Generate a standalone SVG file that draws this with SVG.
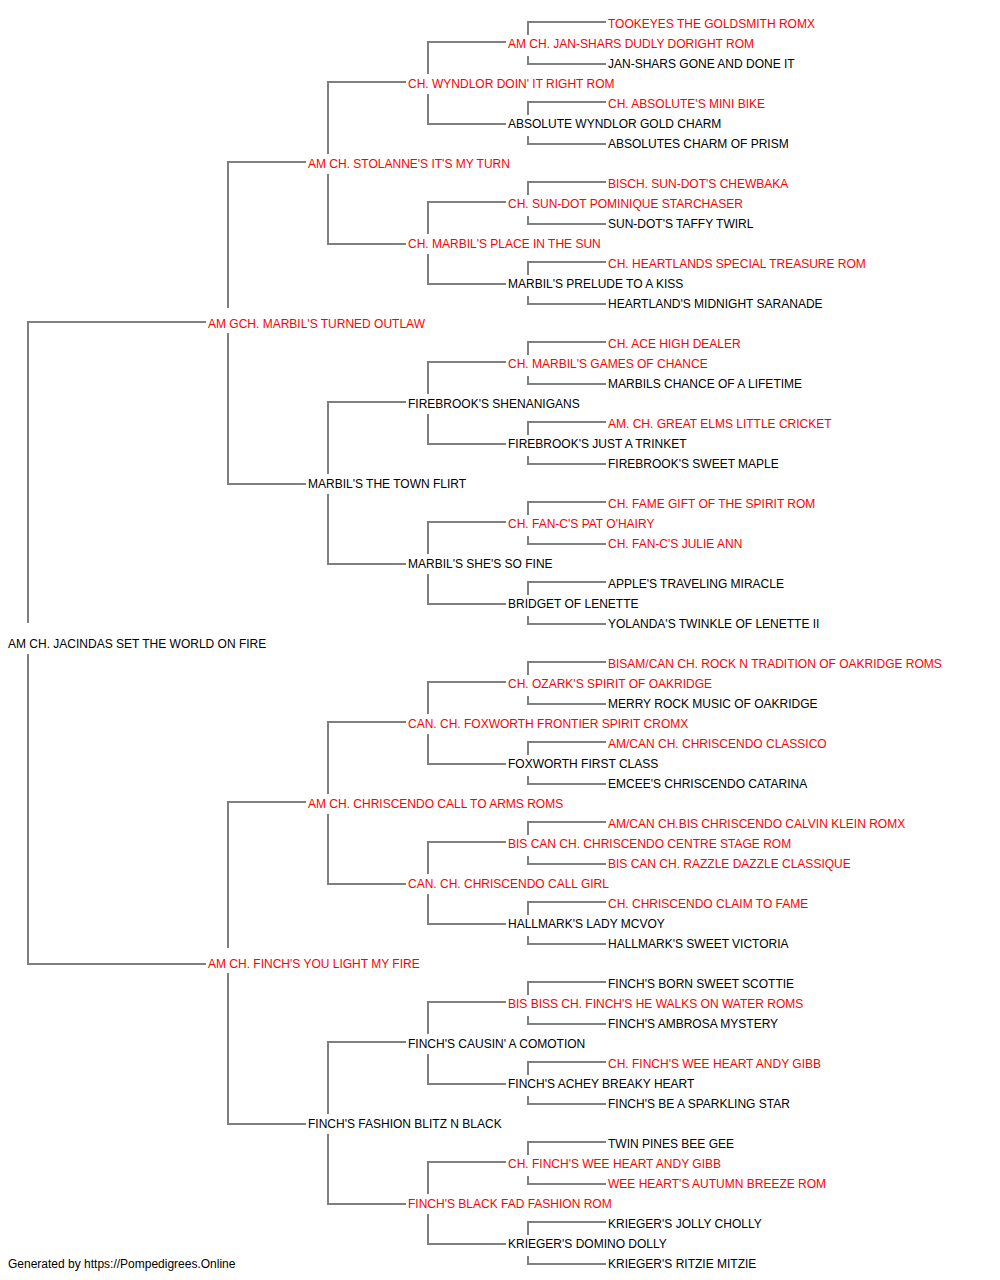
<svg xmlns="http://www.w3.org/2000/svg" width="1000" height="1280" viewBox="0 0 1000 1280">
<style>
text{font-family:"Liberation Sans",Arial,sans-serif;font-size:12px;fill:#000}
.r{fill:#ff0000}
.c{fill:none;stroke:#808080;stroke-width:2}
</style>
<rect width="1000" height="1280" fill="#fff"/>
<g id="connectors" class="c">
<path d="M28 623V322H206M28 654V964H206"/>
<path d="M228 308V162H306M228 333V484H306"/>
<path d="M228 948V802H306M228 973V1124H306"/>
<path d="M328 154V82H406M328 174V244H406"/>
<path d="M328 474V402H406M328 494V564H406"/>
<path d="M328 794V722H406M328 814V884H406"/>
<path d="M328 1114V1042H406M328 1134V1204H406"/>
<path d="M428 74V42H506M428 94V124H506"/>
<path d="M428 234V202H506M428 254V284H506"/>
<path d="M428 394V362H506M428 414V444H506"/>
<path d="M428 554V522H506M428 574V604H506"/>
<path d="M428 714V682H506M428 734V764H506"/>
<path d="M428 874V842H506M428 894V924H506"/>
<path d="M428 1034V1002H506M428 1054V1084H506"/>
<path d="M428 1194V1162H506M428 1214V1244H506"/>
<path d="M528 35V22H606M528 56V64H606"/>
<path d="M528 115V102H606M528 136V144H606"/>
<path d="M528 195V182H606M528 216V224H606"/>
<path d="M528 275V262H606M528 296V304H606"/>
<path d="M528 355V342H606M528 376V384H606"/>
<path d="M528 435V422H606M528 456V464H606"/>
<path d="M528 515V502H606M528 536V544H606"/>
<path d="M528 595V582H606M528 616V624H606"/>
<path d="M528 675V662H606M528 696V704H606"/>
<path d="M528 755V742H606M528 776V784H606"/>
<path d="M528 835V822H606M528 856V864H606"/>
<path d="M528 915V902H606M528 936V944H606"/>
<path d="M528 995V982H606M528 1016V1024H606"/>
<path d="M528 1075V1062H606M528 1096V1104H606"/>
<path d="M528 1155V1142H606M528 1176V1184H606"/>
<path d="M528 1235V1222H606M528 1256V1264H606"/>
</g>
<g id="n0"><text class="r" x="608" y="27.5">TOOKEYES THE GOLDSMITH ROMX</text></g>
<g id="n1"><text class="r" x="508" y="47.5">AM CH. JAN-SHARS DUDLY DORIGHT ROM</text></g>
<g id="n2"><text x="608" y="67.5">JAN-SHARS GONE AND DONE IT</text></g>
<g id="n3"><text class="r" x="408" y="87.5">CH. WYNDLOR DOIN' IT RIGHT ROM</text></g>
<g id="n4"><text class="r" x="608" y="107.5">CH. ABSOLUTE'S MINI BIKE</text></g>
<g id="n5"><text x="508" y="127.5">ABSOLUTE WYNDLOR GOLD CHARM</text></g>
<g id="n6"><text x="608" y="147.5">ABSOLUTES CHARM OF PRISM</text></g>
<g id="n7"><text class="r" x="308" y="167.5">AM CH. STOLANNE'S IT'S MY TURN</text></g>
<g id="n8"><text class="r" x="608" y="187.5">BISCH. SUN-DOT'S CHEWBAKA</text></g>
<g id="n9"><text class="r" x="508" y="207.5">CH. SUN-DOT POMINIQUE STARCHASER</text></g>
<g id="n10"><text x="608" y="227.5">SUN-DOT'S TAFFY TWIRL</text></g>
<g id="n11"><text class="r" x="408" y="247.5">CH. MARBIL'S PLACE IN THE SUN</text></g>
<g id="n12"><text class="r" x="608" y="267.5">CH. HEARTLANDS SPECIAL TREASURE ROM</text></g>
<g id="n13"><text x="508" y="287.5">MARBIL'S PRELUDE TO A KISS</text></g>
<g id="n14"><text x="608" y="307.5">HEARTLAND'S MIDNIGHT SARANADE</text></g>
<g id="n15"><text class="r" x="208" y="327.5">AM GCH. MARBIL'S TURNED OUTLAW</text></g>
<g id="n16"><text class="r" x="608" y="347.5">CH. ACE HIGH DEALER</text></g>
<g id="n17"><text class="r" x="508" y="367.5">CH. MARBIL'S GAMES OF CHANCE</text></g>
<g id="n18"><text x="608" y="387.5">MARBILS CHANCE OF A LIFETIME</text></g>
<g id="n19"><text x="408" y="407.5">FIREBROOK'S SHENANIGANS</text></g>
<g id="n20"><text class="r" x="608" y="427.5">AM. CH. GREAT ELMS LITTLE CRICKET</text></g>
<g id="n21"><text x="508" y="447.5">FIREBROOK'S JUST A TRINKET</text></g>
<g id="n22"><text x="608" y="467.5">FIREBROOK'S SWEET MAPLE</text></g>
<g id="n23"><text x="308" y="487.5">MARBIL'S THE TOWN FLIRT</text></g>
<g id="n24"><text class="r" x="608" y="507.5">CH. FAME GIFT OF THE SPIRIT ROM</text></g>
<g id="n25"><text class="r" x="508" y="527.5">CH. FAN-C'S PAT O'HAIRY</text></g>
<g id="n26"><text class="r" x="608" y="547.5">CH. FAN-C'S JULIE ANN</text></g>
<g id="n27"><text x="408" y="567.5">MARBIL'S SHE'S SO FINE</text></g>
<g id="n28"><text x="608" y="587.5">APPLE'S TRAVELING MIRACLE</text></g>
<g id="n29"><text x="508" y="607.5">BRIDGET OF LENETTE</text></g>
<g id="n30"><text x="608" y="627.5">YOLANDA'S TWINKLE OF LENETTE II</text></g>
<g id="n31"><text x="8" y="647.5">AM CH. JACINDAS SET THE WORLD ON FIRE</text></g>
<g id="n32"><text class="r" x="608" y="667.5">BISAM/CAN CH. ROCK N TRADITION OF OAKRIDGE ROMS</text></g>
<g id="n33"><text class="r" x="508" y="687.5">CH. OZARK'S SPIRIT OF OAKRIDGE</text></g>
<g id="n34"><text x="608" y="707.5">MERRY ROCK MUSIC OF OAKRIDGE</text></g>
<g id="n35"><text class="r" x="408" y="727.5">CAN. CH. FOXWORTH FRONTIER SPIRIT CROMX</text></g>
<g id="n36"><text class="r" x="608" y="747.5">AM/CAN CH. CHRISCENDO CLASSICO</text></g>
<g id="n37"><text x="508" y="767.5">FOXWORTH FIRST CLASS</text></g>
<g id="n38"><text x="608" y="787.5">EMCEE'S CHRISCENDO CATARINA</text></g>
<g id="n39"><text class="r" x="308" y="807.5">AM CH. CHRISCENDO CALL TO ARMS ROMS</text></g>
<g id="n40"><text class="r" x="608" y="827.5">AM/CAN CH.BIS CHRISCENDO CALVIN KLEIN ROMX</text></g>
<g id="n41"><text class="r" x="508" y="847.5">BIS CAN CH. CHRISCENDO CENTRE STAGE ROM</text></g>
<g id="n42"><text class="r" x="608" y="867.5">BIS CAN CH. RAZZLE DAZZLE CLASSIQUE</text></g>
<g id="n43"><text class="r" x="408" y="887.5">CAN. CH. CHRISCENDO CALL GIRL</text></g>
<g id="n44"><text class="r" x="608" y="907.5">CH. CHRISCENDO CLAIM TO FAME</text></g>
<g id="n45"><text x="508" y="927.5">HALLMARK'S LADY MCVOY</text></g>
<g id="n46"><text x="608" y="947.5">HALLMARK'S SWEET VICTORIA</text></g>
<g id="n47"><text class="r" x="208" y="967.5">AM CH. FINCH'S YOU LIGHT MY FIRE</text></g>
<g id="n48"><text x="608" y="987.5">FINCH'S BORN SWEET SCOTTIE</text></g>
<g id="n49"><text class="r" x="508" y="1007.5">BIS BISS CH. FINCH'S HE WALKS ON WATER ROMS</text></g>
<g id="n50"><text x="608" y="1027.5">FINCH'S AMBROSA MYSTERY</text></g>
<g id="n51"><text x="408" y="1047.5">FINCH'S CAUSIN' A COMOTION</text></g>
<g id="n52"><text class="r" x="608" y="1067.5">CH. FINCH'S WEE HEART ANDY GIBB</text></g>
<g id="n53"><text x="508" y="1087.5">FINCH'S ACHEY BREAKY HEART</text></g>
<g id="n54"><text x="608" y="1107.5">FINCH'S BE A SPARKLING STAR</text></g>
<g id="n55"><text x="308" y="1127.5">FINCH'S FASHION BLITZ N BLACK</text></g>
<g id="n56"><text x="608" y="1147.5">TWIN PINES BEE GEE</text></g>
<g id="n57"><text class="r" x="508" y="1167.5">CH. FINCH'S WEE HEART ANDY GIBB</text></g>
<g id="n58"><text class="r" x="608" y="1187.5">WEE HEART'S AUTUMN BREEZE ROM</text></g>
<g id="n59"><text class="r" x="408" y="1207.5">FINCH'S BLACK FAD FASHION ROM</text></g>
<g id="n60"><text x="608" y="1227.5">KRIEGER'S JOLLY CHOLLY</text></g>
<g id="n61"><text x="508" y="1247.5">KRIEGER'S DOMINO DOLLY</text></g>
<g id="n62"><text x="608" y="1267.5">KRIEGER'S RITZIE MITZIE</text></g>
<g id="footer"><text x="8" y="1267.5">Generated by https://Pompedigrees.Online</text></g>
</svg>
